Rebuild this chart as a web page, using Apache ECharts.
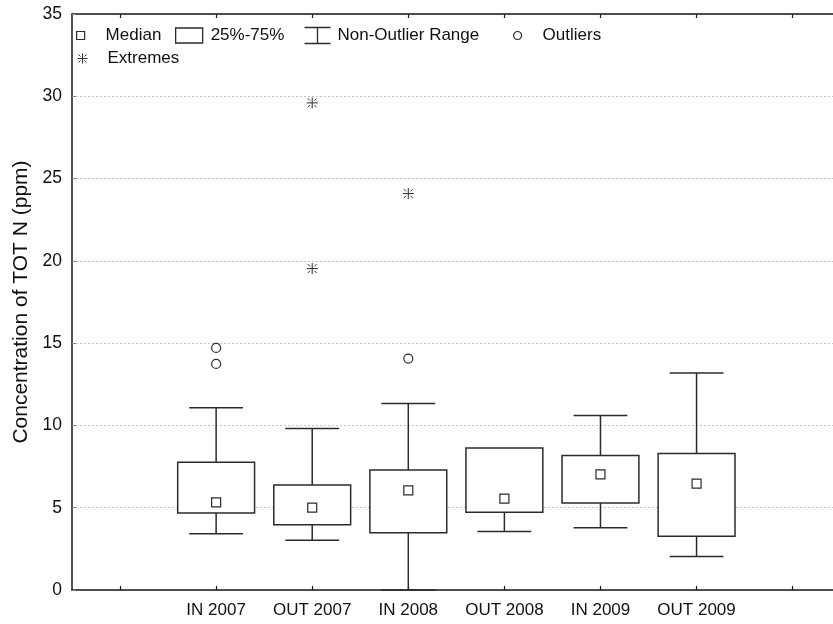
<!DOCTYPE html>
<html>
<head>
<meta charset="utf-8">
<script src="https://cdn.jsdelivr.net/npm/echarts@6/dist/echarts.min.js"></script>
<style>html,body{margin:0;padding:0;background:#fff;}#c{width:833px;height:624px;}</style>
</head>
<body>
<div id="c"></div>
<script>
// ---- data ----
const categories = ['IN 2007', 'OUT 2007', 'IN 2008', 'OUT 2008', 'IN 2009', 'OUT 2009'];
const whiskerMin = [3.42, 3.02, 0.00, 3.56, 3.79, 2.04];
const q1 = [4.68, 3.97, 3.48, 4.72, 5.29, 3.26];
const median = [5.33, 5.00, 6.05, 5.55, 7.03, 6.46];
const q3 = [7.76, 6.38, 7.29, 8.63, 8.18, 8.29];
const whiskerMax = [11.08, 9.82, 11.34, 8.63, 10.60, 13.19];
const outliers = [['IN 2007', 14.71], ['IN 2007', 13.74], ['IN 2008', 14.06]];
const extremes = [['OUT 2007', 29.60], ['OUT 2007', 19.53], ['IN 2008', 24.09]];
const yTicks = [0, 5, 10, 15, 20, 25, 30, 35];
const legendNames = ['Median', '25%-75%', 'Non-Outlier Range', 'Outliers', 'Extremes'];

// category slot positions on the x value axis (slot 1 and 8 are empty)
const slotOf = name => categories.indexOf(name) + 2;
const xTickSlots = [1, 2, 3, 4, 5, 6, 7, 8];
const xLabelSlots = categories.map((c, i) => i + 2);

const FONT = "'Liberation Sans', Arial, Helvetica, sans-serif";
const INK = '#2b2b2b';
const TXT = '#111';

const boxData = categories.map((c, i) => [i + 2, whiskerMin[i], q1[i], median[i], q3[i], whiskerMax[i]]);
const medianData = categories.map((c, i) => [i + 2, median[i]]);
const outlierData = outliers.map(d => [slotOf(d[0]), d[1]]);
const extremeData = extremes.map(d => [slotOf(d[0]), d[1]]);

const starPath = 'path://M5,0L5,10M0,5L10,5M1,1L3,3M9,1L7,3M1,9L3,7M9,9L7,7';
const whiskPath = 'path://M0,0L26,0M13,0L13,16M0,16L26,16';

const chart = echarts.init(document.getElementById('c'), null, {renderer: 'canvas'});

function legendAt(name, left, top, icon, w, h, pad, style) {
  return {
    left: left, top: top, padding: 0, itemWidth: w, itemHeight: h,
    selectedMode: false,
    data: [{name: name, icon: icon, itemStyle: style}],
    textStyle: {fontFamily: FONT, fontSize: 17, color: TXT, padding: [0, 0, 0, pad]}
  };
}

const option = {
  animation: false,
  backgroundColor: '#fff',
  grid: {left: 72, right: 0, top: 14, bottom: 34, containLabel: false},
  legend: [
    legendAt(legendNames[0], 76, 27, 'rect', 8, 8, 16, {color: '#fff', borderColor: INK, borderWidth: 1.2}),
    legendAt(legendNames[1], 175, 27, 'rect', 27, 15, 3, {color: '#fff', borderColor: INK, borderWidth: 1.3}),
    legendAt(legendNames[2], 302, 25, whiskPath, 26, 16, 2, {color: 'none', borderColor: INK, borderWidth: 1.3}),
    legendAt(legendNames[3], 513, 27, 'circle', 8, 8, 16, {color: '#fff', borderColor: INK, borderWidth: 1.2}),
    legendAt(legendNames[4], 75, 50, starPath, 10, 10, 15, {color: 'none', borderColor: INK, borderWidth: 1})
  ],
  xAxis: [{
    type: 'value', min: 0.5, max: 8.42, position: 'bottom',
    axisLine: {show: true, lineStyle: {color: '#1a1a1a', width: 1.5}},
    axisTick: {show: true, inside: true, length: 4, customValues: xTickSlots, lineStyle: {color: '#1a1a1a', width: 1.2}},
    axisLabel: {show: true, customValues: xLabelSlots, margin: 12, fontFamily: FONT, fontSize: 17, color: TXT,
      formatter: v => categories[Math.round(v) - 2] || ''},
    splitLine: {show: false}
  }, {
    type: 'value', min: 0.5, max: 8.42, position: 'top',
    axisLine: {show: true, lineStyle: {color: '#1a1a1a', width: 1.5}},
    axisTick: {show: true, inside: true, length: 4, customValues: xTickSlots, lineStyle: {color: '#1a1a1a', width: 1.2}},
    axisLabel: {show: false},
    splitLine: {show: false}
  }],
  yAxis: {
    type: 'value', min: 0, max: 35, interval: 5,
    name: 'Concentration of TOT N (ppm)', nameLocation: 'middle', nameGap: 36,
    nameTextStyle: {fontFamily: FONT, fontSize: 21, color: TXT},
    axisLine: {show: true, lineStyle: {color: '#1a1a1a', width: 1.5}},
    axisTick: {show: true, inside: true, length: 4, lineStyle: {color: '#888'}},
    axisLabel: {margin: 10, fontFamily: FONT, fontSize: 17.5, color: TXT,
      formatter: v => (yTicks.indexOf(v) >= 0 ? String(v) : '')},
    splitLine: {show: true, lineStyle: {color: '#c4c4c4', type: [2, 2], width: 1}}
  },
  series: [
    {
      name: legendNames[2], type: 'custom', data: boxData, z: 2,
      encode: {x: 0, y: [1, 2, 3, 4, 5]},
      renderItem: function (params, api) {
        const x = api.value(0), mn = api.value(1), lo = api.value(2), hi = api.value(4), mx = api.value(5);
        const cap = 0.28;
        const kids = [];
        const st = {stroke: INK, lineWidth: 1.5, fill: null};
        if (mx > hi) {
          const a = api.coord([x, hi]), b = api.coord([x, mx]);
          const c1 = api.coord([x - cap, mx]), c2 = api.coord([x + cap, mx]);
          kids.push({type: 'line', shape: {x1: a[0], y1: a[1], x2: b[0], y2: b[1]}, style: st});
          kids.push({type: 'line', shape: {x1: c1[0], y1: c1[1], x2: c2[0], y2: c2[1]}, style: st});
        }
        if (mn < lo) {
          const a = api.coord([x, lo]), b = api.coord([x, mn]);
          const c1 = api.coord([x - cap, mn]), c2 = api.coord([x + cap, mn]);
          kids.push({type: 'line', shape: {x1: a[0], y1: a[1], x2: b[0], y2: b[1]}, style: st});
          kids.push({type: 'line', shape: {x1: c1[0], y1: c1[1], x2: c2[0], y2: c2[1]}, style: st});
        }
        return {type: 'group', children: kids};
      }
    },
    {
      name: legendNames[1], type: 'custom', data: boxData, z: 3,
      encode: {x: 0, y: [2, 4]},
      renderItem: function (params, api) {
        const x = api.value(0), lo = api.value(2), hi = api.value(4);
        const p1 = api.coord([x - 0.4, hi]), p2 = api.coord([x + 0.4, lo]);
        return {type: 'rect', shape: {x: p1[0], y: p1[1], width: p2[0] - p1[0], height: p2[1] - p1[1]},
          style: {fill: '#fff', stroke: INK, lineWidth: 1.5}};
      }
    },
    {
      name: legendNames[0], type: 'scatter', data: medianData, z: 4,
      symbol: 'rect', symbolSize: 9,
      itemStyle: {color: '#fff', borderColor: INK, borderWidth: 1.2, opacity: 1}
    },
    {
      name: legendNames[3], type: 'scatter', data: outlierData, z: 4,
      symbol: 'circle', symbolSize: 9,
      itemStyle: {color: '#fff', borderColor: INK, borderWidth: 1.2, opacity: 1}
    },
    {
      name: legendNames[4], type: 'scatter', data: extremeData, z: 4,
      symbol: starPath, symbolSize: 11,
      itemStyle: {color: 'none', borderColor: INK, borderWidth: 1, opacity: 1}
    }
  ]
};
chart.setOption(option);
</script>
</body>
</html>
